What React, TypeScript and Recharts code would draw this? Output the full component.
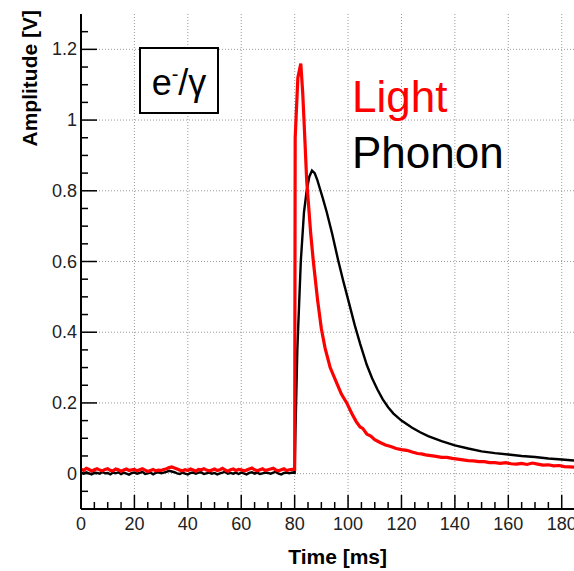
import { CartesianGrid, Line, LineChart, XAxis, YAxis } from "recharts";

// baseline samples before the trigger (t in ms)
const baseTimes = [
  0, 1, 2, 3, 4, 5, 6, 7, 8, 9, 10, 11, 12, 13, 14, 15, 16, 17, 18, 19,
  20, 21, 22, 23, 24, 25, 26, 27, 28, 29, 30, 31, 32, 33, 34, 35, 36, 37, 38, 39,
  40, 41, 42, 43, 44, 45, 46, 47, 48, 49, 50, 51, 52, 53, 54, 55, 56, 57, 58, 59,
  60, 61, 62, 63, 64, 65, 66, 67, 68, 69, 70, 71, 72, 73, 74, 75, 76, 77, 78, 79,
];

const lightBase = [
  0.013, 0.009, 0.015, 0.012, 0.007, 0.011, 0.014, 0.01, 0.008, 0.012,
  0.014, 0.009, 0.008, 0.013, 0.011, 0.007, 0.01, 0.013, 0.009, 0.011,
  0.012, 0.008, 0.011, 0.014, 0.01, 0.006, 0.009, 0.012, 0.008, 0.01,
  0.009, 0.012, 0.014, 0.017, 0.019, 0.016, 0.013, 0.01, 0.008, 0.011,
  0.009, 0.013, 0.01, 0.007, 0.012, 0.011, 0.014, 0.01, 0.008, 0.01,
  0.013, 0.009, 0.011, 0.015, 0.01, 0.007, 0.011, 0.013, 0.009, 0.012,
  0.011, 0.008, 0.01, 0.013, 0.016, 0.011, 0.008, 0.011, 0.014, 0.009,
  0.011, 0.013, 0.015, 0.01, 0.008, 0.011, 0.014, 0.009, 0.011, 0.012,
];

const phononBase = [
  0.003, 0.0, 0.004, 0.001, -0.002, 0.003, 0.002, 0.0, 0.005, 0.001,
  0.002, -0.002, 0.003, 0.001, 0.004, -0.001, 0.003, 0.0, -0.003, 0.002,
  0.003, 0.0, 0.002, 0.005, -0.001, 0.001, 0.003, -0.002, 0.002, 0.004,
  0.001, 0.003, 0.005, 0.008, 0.006, 0.004, 0.001, -0.001, 0.003, 0.0,
  -0.002, 0.002, 0.003, 0.0, 0.003, 0.004, -0.001, 0.001, 0.003, 0.0,
  0.002, -0.002, 0.001, 0.003, 0.005, 0.0, 0.002, 0.0, 0.003, -0.001,
  0.003, 0.001, -0.002, 0.002, 0.004, 0.0, 0.003, -0.001, 0.001, 0.003,
  0.002, 0.0, 0.003, 0.005, 0.0, -0.002, 0.002, 0.003, 0.001, 0.003,
];

// pulse after the trigger
const lightPulseT = [
  80, 80.2, 81.2, 82.3, 83, 83.5, 84.5, 85, 86, 87, 88.6, 90, 91.4, 93.3, 95.8,
  97.5, 99.5, 101.4, 103, 104.5, 105.5, 107, 108.5, 110, 112, 114, 116, 118, 120,
  122, 124, 126, 127.5, 129, 131, 133, 135, 137, 139, 141, 143, 145, 147, 149,
  151, 153, 155, 157, 159, 161, 163, 165, 167, 169, 171, 173, 175, 177, 179, 181,
  183, 185,
];
const lightPulseV = [
  0.012, 0.95, 1.12, 1.16, 1.08, 1.0, 0.83, 0.78, 0.68, 0.6, 0.49, 0.41, 0.355, 0.3,
  0.255, 0.225, 0.2, 0.17, 0.148, 0.132, 0.128, 0.112, 0.106, 0.096, 0.088, 0.081,
  0.077, 0.071, 0.068, 0.066, 0.061, 0.057, 0.056, 0.053, 0.051, 0.049, 0.046,
  0.046, 0.043, 0.041, 0.039, 0.037, 0.036, 0.034, 0.034, 0.031, 0.031, 0.029,
  0.031, 0.028, 0.027, 0.029, 0.026, 0.03, 0.027, 0.024, 0.025, 0.022, 0.023,
  0.02, 0.019, 0.018,
];

const phononPulseT = [
  80, 80.3, 81, 82.3, 83.5, 84.5, 85.5, 86.5, 87.5, 88.5, 89.5, 90.5, 92, 94, 96.4,
  98.2, 100.1, 102.5, 104.5, 107, 109, 111, 113, 115, 117, 120, 124, 127, 130, 135,
  140, 145, 150, 155, 160, 165, 170, 175, 180, 185,
];
const phononPulseV = [
  0.002, 0.12, 0.35, 0.6, 0.74, 0.8, 0.84, 0.857, 0.85, 0.83, 0.805, 0.78, 0.74,
  0.68, 0.6, 0.545, 0.49, 0.42, 0.368, 0.308, 0.27, 0.238, 0.21, 0.188, 0.17, 0.15,
  0.13, 0.117, 0.106, 0.092, 0.08, 0.071, 0.063, 0.058, 0.054, 0.05, 0.047, 0.043,
  0.04, 0.037,
];

const xTicks = [
  0, 5, 10, 15, 20, 25, 30, 35, 40, 45, 50, 55, 60, 65, 70, 75, 80, 85, 90, 95,
  100, 105, 110, 115, 120, 125, 130, 135, 140, 145, 150, 155, 160, 165, 170, 175, 180,
];
const xMajor = [0, 20, 40, 60, 80, 100, 120, 140, 160, 180];
const yTicks = [
  -0.05, 0, 0.05, 0.1, 0.15, 0.2, 0.25, 0.3, 0.35, 0.4, 0.45, 0.5, 0.55, 0.6,
  0.65, 0.7, 0.75, 0.8, 0.85, 0.9, 0.95, 1, 1.05, 1.1, 1.15, 1.2, 1.25,
];
const yMajor = [0, 0.2, 0.4, 0.6, 0.8, 1, 1.2];

const lightData = [
  ...baseTimes.map((t, i) => ({ t, v: lightBase[i] })),
  ...lightPulseT.map((t, i) => ({ t, v: lightPulseV[i] })),
];
const phononData = [
  ...baseTimes.map((t, i) => ({ t, v: phononBase[i] })),
  ...phononPulseT.map((t, i) => ({ t, v: phononPulseV[i] })),
];

const FONT = "'Liberation Sans', Arial, Helvetica, sans-serif";
const W = 574;
const H = 571;

const isMajor = (v: number, list: number[]) => list.some((m) => Math.abs(m - v) < 1e-6);

function BottomTick({ x, y, payload }: any) {
  const major = isMajor(payload.value, xMajor);
  return (
    <g>
      <line x1={x} x2={x} y1={y} y2={y - (major ? 14 : 7)} stroke="#000" strokeWidth={1.5} />
      {major && (
        <text x={x} y={y + 21} textAnchor="middle" fontSize={18} fill="#222" fontFamily={FONT}>
          {payload.value}
        </text>
      )}
    </g>
  );
}

function TopTick({ x, y, payload }: any) {
  const major = isMajor(payload.value, xMajor);
  return <line x1={x} x2={x} y1={y} y2={y + (major ? 11 : 6)} stroke="#000" strokeWidth={1.5} />;
}

function LeftTick({ x, y, payload }: any) {
  const major = isMajor(payload.value, yMajor);
  return (
    <g>
      <line x1={x} x2={x + (major ? 16 : 7)} y1={y} y2={y} stroke="#000" strokeWidth={1.5} />
      {major && (
        <text x={x - 4} y={y + 6} textAnchor="end" fontSize={18} fill="#222" fontFamily={FONT}>
          {payload.value}
        </text>
      )}
    </g>
  );
}

export default function App() {
  return (
    <div style={{ position: "absolute", left: 0, top: 0, width: W, height: H, overflow: "hidden", background: "#fff" }}>
      <LineChart width={W} height={H} margin={{ top: 14, right: 0, bottom: 0, left: 0 }}>
        <CartesianGrid
          verticalValues={xMajor.slice(1)}
          horizontalValues={yMajor}
          stroke="#9a9a9a"
          strokeDasharray="1 2"
        />
        <XAxis
          dataKey="t"
          type="number"
          domain={[0, 184.6]}
          allowDataOverflow
          ticks={xTicks}
          interval={0}
          height={62}
          tickSize={0}
          tickMargin={0}
          tickLine={false}
          axisLine={{ stroke: "#000", strokeWidth: 2 }}
          tick={<BottomTick />}
        />
        <XAxis
          xAxisId="top"
          orientation="top"
          dataKey="t"
          type="number"
          domain={[0, 184.6]}
          allowDataOverflow
          ticks={xTicks}
          interval={0}
          height={0}
          tickSize={0}
          tickMargin={0}
          tickLine={false}
          axisLine={{ stroke: "#000", strokeWidth: 2 }}
          tick={<TopTick />}
        />
        <YAxis
          type="number"
          domain={[-0.1, 1.3]}
          allowDataOverflow
          ticks={yTicks}
          interval={0}
          width={81}
          tickSize={0}
          tickMargin={0}
          tickLine={false}
          axisLine={{ stroke: "#000", strokeWidth: 2 }}
          tick={<LeftTick />}
        />
        <Line
          data={phononData}
          dataKey="v"
          type="linear"
          stroke="#000"
          strokeWidth={2.4}
          dot={false}
          isAnimationActive={false}
        />
        <Line
          data={lightData}
          dataKey="v"
          type="linear"
          stroke="#ff0000"
          strokeWidth={3.2}
          dot={false}
          isAnimationActive={false}
        />
      </LineChart>

      <svg width={W} height={H} style={{ position: "absolute", left: 0, top: 0, pointerEvents: "none" }}>
        <text
          transform="translate(37,10) rotate(-90)"
          textAnchor="end"
          fontSize={21}
          fontWeight="bold"
          fontFamily={FONT}
          fill="#000"
        >
          Amplitude [V]
        </text>
        <text x={387} y={564} textAnchor="end" fontSize={21} fontWeight="bold" fontFamily={FONT} fill="#000">
          Time [ms]
        </text>
        <rect x={140} y={48} width={78} height={65} fill="#fff" stroke="#000" strokeWidth={2} />
        <text x={179} y={95} textAnchor="middle" fontSize={36} fontFamily={FONT} fill="#000">
          e<tspan fontSize={20} dy={-14}>-</tspan>
          <tspan dy={14}>/γ</tspan>
        </text>
        <text x={352} y={112} fontSize={44} fontFamily={FONT} fill="#ff0000">
          Light
        </text>
        <text x={352} y={168} fontSize={44} fontFamily={FONT} fill="#000">
          Phonon
        </text>
      </svg>
    </div>
  );
}
